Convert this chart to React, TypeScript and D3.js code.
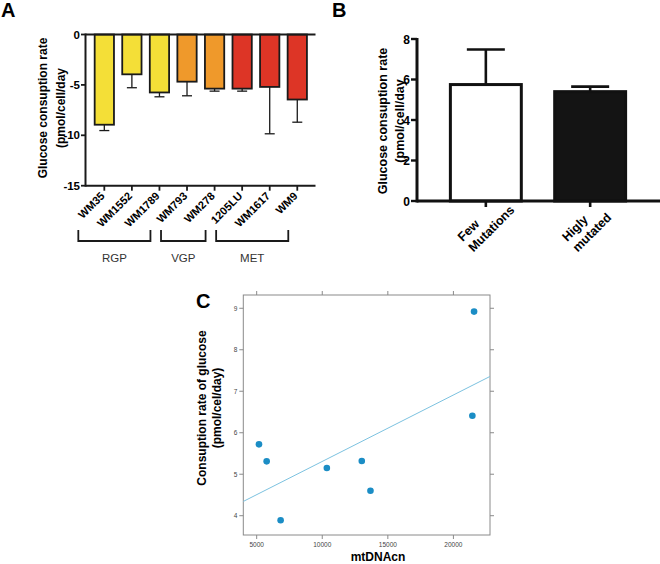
import React from "react"
import * as d3 from "d3"

// Panel A: glucose consumption per cell line
const cellLines = ["WM35", "WM1552", "WM1789", "WM793", "WM278", "1205LU", "WM1617", "WM9"]
const cellRates = [-8.95, -3.95, -5.75, -4.68, -5.37, -5.37, -5.2, -6.45]
const cellErrors = [0.58, 1.33, 0.43, 1.4, 0.25, 0.25, 4.65, 2.25]
const cellStage = ["RGP", "RGP", "RGP", "VGP", "VGP", "MET", "MET", "MET"]
const stageNames = ["RGP", "VGP", "MET"]
const stageColors = ["#f4df37", "#ef992b", "#dd3526"]
const aTicks = [0, -5, -10, -15]

// Panel B: mutation load groups
const groupLabels = [["Few", "Mutations"], ["Higly", "mutated"]]
const groupRates = [5.75, 5.4]
const groupErrors = [1.73, 0.25]
const groupFills = ["#ffffff", "#141414"]
const bTicks = [0, 2, 4, 6, 8]

// Panel C: mtDNA copy number vs glucose consumption
const mtDNAcn = [5175, 5761, 6826, 10350, 13014, 13676, 21445, 21575]
const glucoseRate = [5.72, 5.31, 3.89, 5.15, 5.32, 4.6, 6.41, 8.92]
const cXTicks = [5000, 10000, 15000, 20000]
const cYTicks = [4, 5, 6, 7, 8, 9]

const FONT = "'Liberation Sans', Arial, Helvetica, sans-serif"

function PanelA() {
  const x = d3.scaleBand<string>().domain(cellLines).range([86.4, 315.2]).padding(0.3)
  const y = d3.scaleLinear().domain([0, -15]).range([34.5, 185.7])
  const axisY = y(-15)
  const stroke = "#1a1a1a"
  return (
    <g>
      <text x={1} y={17} fontSize={20} fontWeight="bold" fontFamily={FONT}>A</text>
      <text transform={`translate(47,108) rotate(-90)`} textAnchor="middle" fontSize={12} fontWeight="bold" fontFamily={FONT}>
        Glucose consuption rate
      </text>
      <text transform={`translate(65,108) rotate(-90)`} textAnchor="middle" fontSize={12} fontWeight="bold" fontFamily={FONT}>
        (pmol/cell/day
      </text>
      {cellLines.map((c, i) => {
        const bx = x(c) ?? 0
        const bw = x.bandwidth()
        const cx = bx + bw / 2
        const color = stageColors[stageNames.indexOf(cellStage[i])]
        const y0 = y(0)
        const y1 = y(cellRates[i])
        const ye = y(cellRates[i] - cellErrors[i])
        return (
          <g key={c}>
            <line x1={cx} x2={cx} y1={y1} y2={ye} stroke={stroke} strokeWidth={1.3} />
            <line x1={cx - 5} x2={cx + 5} y1={ye} y2={ye} stroke={stroke} strokeWidth={1.3} />
            <rect x={bx} y={y0} width={bw} height={y1 - y0} fill={color} stroke={stroke} strokeWidth={1.8} />
            <line x1={cx} x2={cx} y1={axisY} y2={axisY + 5} stroke={stroke} strokeWidth={1.8} />
            <text
              transform={`translate(${cx + 1},${axisY + 11}) rotate(-45)`}
              textAnchor="end"
              fontSize={11}
              fontWeight="bold"
              fontFamily={FONT}
            >
              {c}
            </text>
          </g>
        )
      })}
      {/* axes */}
      <line x1={85.5} x2={315.5} y1={y(0)} y2={y(0)} stroke={stroke} strokeWidth={2} />
      <line x1={85.5} x2={315.5} y1={axisY} y2={axisY} stroke={stroke} strokeWidth={2} />
      <line x1={85.5} x2={85.5} y1={y(0) - 1} y2={axisY + 1} stroke={stroke} strokeWidth={2} />
      {aTicks.map((t) => (
        <g key={t}>
          <line x1={81} x2={85.5} y1={y(t)} y2={y(t)} stroke={stroke} strokeWidth={1.8} />
          <text x={80} y={y(t) + 4} textAnchor="end" fontSize={11.5} fontWeight="bold" fontFamily={FONT}>
            {t}
          </text>
        </g>
      ))}
      {/* stage brackets */}
      {stageNames.map((s) => {
        const members = cellLines.filter((_, i) => cellStage[i] === s)
        const first = (x(members[0]) ?? 0) + x.bandwidth() / 2
        const last = (x(members[members.length - 1]) ?? 0) + x.bandwidth() / 2
        const x0 = first - 26
        const x1 = last - 9
        return (
          <g key={s}>
            <path d={`M${x0},230 V241 H${x1} V230`} fill="none" stroke={stroke} strokeWidth={1.8} />
            <text x={(x0 + x1) / 2} y={262} textAnchor="middle" fontSize={11.5} fill="#333" fontFamily={FONT}>
              {s}
            </text>
          </g>
        )
      })}
    </g>
  )
}

function PanelB() {
  const x = d3.scaleBand<number>().domain([0, 1]).range([417, 659]).padding(0.32)
  const y = d3.scaleLinear().domain([0, 8]).range([201, 39])
  const stroke = "#111"
  return (
    <g>
      <text x={332} y={17} fontSize={20} fontWeight="bold" fontFamily={FONT}>B</text>
      <text transform={`translate(387,121) rotate(-90)`} textAnchor="middle" fontSize={12.5} fontWeight="bold" fontFamily={FONT}>
        Glucose consuption rate
      </text>
      <text transform={`translate(404,121) rotate(-90)`} textAnchor="middle" fontSize={12.5} fontWeight="bold" fontFamily={FONT}>
        (pmol/cell/day
      </text>
      {groupRates.map((v, i) => {
        const bx = x(i) ?? 0
        const bw = x.bandwidth()
        const cx = bx + bw / 2
        const ye = y(v + groupErrors[i])
        return (
          <g key={i}>
            <line x1={cx} x2={cx} y1={y(v)} y2={ye} stroke={stroke} strokeWidth={2.6} />
            <line x1={cx - 19} x2={cx + 19} y1={ye} y2={ye} stroke={stroke} strokeWidth={2.6} />
            <rect x={bx} y={y(v)} width={bw} height={y(0) - y(v)} fill={groupFills[i]} stroke={stroke} strokeWidth={3} />
            <line x1={cx} x2={cx} y1={y(0)} y2={y(0) + 6} stroke={stroke} strokeWidth={2.6} />
            <g transform={`translate(${cx - 23},${y(0) + 41}) rotate(-45)`}>
              {groupLabels[i].map((l, k) => (
                <text key={k} x={0} y={k * 15} fontSize={12.5} fontWeight="bold" fontFamily={FONT}>
                  {l}
                </text>
              ))}
            </g>
          </g>
        )
      })}
      <line x1={417} x2={660} y1={y(0)} y2={y(0)} stroke={stroke} strokeWidth={3} />
      <line x1={417} x2={417} y1={y(8) - 1} y2={y(0) + 1.5} stroke={stroke} strokeWidth={3} />
      {bTicks.map((t) => (
        <g key={t}>
          <line x1={411} x2={417} y1={y(t)} y2={y(t)} stroke={stroke} strokeWidth={2.4} />
          <text x={410} y={y(t) + 4.5} textAnchor="end" fontSize={12} fontWeight="bold" fontFamily={FONT}>
            {t}
          </text>
        </g>
      ))}
    </g>
  )
}

function PanelC() {
  const x = d3.scaleLinear().domain([3980, 22790]).range([243.3, 490])
  const y = d3.scaleLinear().domain([3.535, 9.32]).range([535, 295])
  const [x0, x1] = x.range()
  const [yb, yt] = y.range()
  // least-squares fit drawn across the panel
  const mx = d3.mean(mtDNAcn) ?? 0
  const my = d3.mean(glucoseRate) ?? 0
  const sxy = d3.sum(mtDNAcn, (v, i) => (v - mx) * (glucoseRate[i] - my))
  const sxx = d3.sum(mtDNAcn, (v) => (v - mx) ** 2)
  const slope = sxy / sxx
  const fit = (v: number) => my + slope * (v - mx)
  const [d0, d1] = x.domain()
  const frame = "#8a8a8a"
  return (
    <g>
      <text x={196} y={308} fontSize={20} fontWeight="bold" fontFamily={FONT}>C</text>
      <text transform={`translate(206,408) rotate(-90)`} textAnchor="middle" fontSize={12} fontWeight="bold" fontFamily={FONT}>
        Consuption rate of glucose
      </text>
      <text transform={`translate(221,408) rotate(-90)`} textAnchor="middle" fontSize={12} fontWeight="bold" fontFamily={FONT}>
        (pmol/cel/day)
      </text>
      <text x={378} y={561} textAnchor="middle" fontSize={12} fontWeight="bold" fontFamily={FONT}>
        mtDNAcn
      </text>
      <rect x={x0} y={yt} width={x1 - x0} height={yb - yt} fill="none" stroke={frame} strokeWidth={1} />
      {cXTicks.map((t) => (
        <g key={t}>
          <line x1={x(t)} x2={x(t)} y1={yb} y2={yb + 4} stroke={frame} />
          <line x1={x(t)} x2={x(t)} y1={yt} y2={yt - 4} stroke={frame} />
          <text x={x(t)} y={yb + 12} textAnchor="middle" fontSize={6.5} fill="#444" fontFamily={FONT}>
            {t}
          </text>
        </g>
      ))}
      {cYTicks.map((t) => (
        <g key={t}>
          <line x1={x0} x2={x0 - 4} y1={y(t)} y2={y(t)} stroke={frame} />
          <line x1={x1} x2={x1 + 4} y1={y(t)} y2={y(t)} stroke={frame} />
          <text x={x0 - 6} y={y(t) + 2.3} textAnchor="end" fontSize={6.5} fill="#444" fontFamily={FONT}>
            {t}
          </text>
        </g>
      ))}
      <line x1={x(d0)} x2={x(d1)} y1={y(fit(d0))} y2={y(fit(d1))} stroke="#7cc2e0" strokeWidth={1} />
      {mtDNAcn.map((v, i) => (
        <circle key={i} cx={x(v)} cy={y(glucoseRate[i])} r={3.3} fill="#1b8dc5" />
      ))}
    </g>
  )
}

export default function App() {
  return (
    <div style={{ position: "absolute", left: 0, top: 0, width: 660, height: 564, background: "#fff" }}>
      <svg width={660} height={564} style={{ display: "block" }}>
        <rect width={660} height={564} fill="#fff" />
        <PanelA />
        <PanelB />
        <PanelC />
      </svg>
    </div>
  )
}
